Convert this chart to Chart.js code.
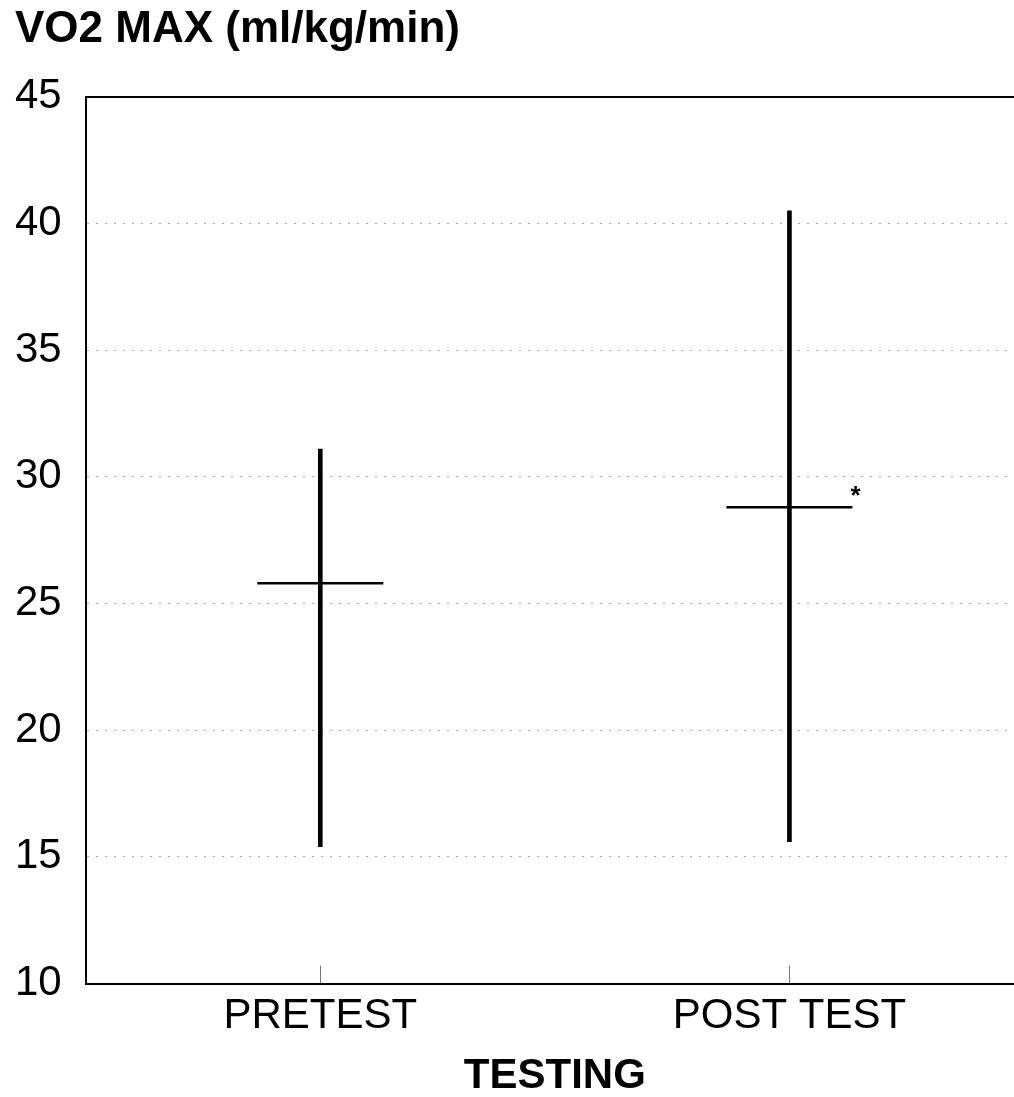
<!DOCTYPE html>
<html>
<head>
<meta charset="utf-8">
<script src="https://cdn.jsdelivr.net/npm/chart.js@4/dist/chart.umd.min.js"></script>
<style>
  html, body { margin: 0; padding: 0; background: #fff; overflow: hidden; }
  #wrap { width: 1024px; height: 1097px; }
</style>
</head>
<body>
<div id="wrap"><canvas id="vo2"></canvas></div>
<script>
// ---- data ----
const categories = ['PRETEST', 'POST TEST'];
const rangeMin   = [15.4, 15.6];
const rangeMax   = [31.1, 40.5];
const means      = [25.8, 28.8];
const markers    = ['', '*'];          // significance mark next to the mean
const yTicks     = [10, 15, 20, 25, 30, 35, 40, 45];

const FONT = '"Liberation Sans", Arial, sans-serif';
const MEAN_HALF = 63;                  // half width of the mean bar (px)

// "*" drawn to the right of the mean line
const starPlugin = {
  id: 'star',
  afterDatasetsDraw(chart) {
    const meta = chart.getDatasetMeta(1);
    const ctx = chart.ctx;
    ctx.save();
    ctx.fillStyle = '#000';
    ctx.font = 'bold 26px ' + FONT;
    ctx.textAlign = 'left';
    ctx.textBaseline = 'middle';
    meta.data.forEach((pt, i) => {
      if (!markers[i]) return;
      ctx.fillText(markers[i], pt.x + MEAN_HALF - 2, pt.y - 10);
    });
    ctx.restore();
  }
};

new Chart(document.getElementById('vo2'), {
  type: 'bar',
  data: {
    labels: categories,
    datasets: [
      {
        type: 'bar',
        data: categories.map((_, i) => [rangeMin[i], rangeMax[i]]),
        backgroundColor: '#000',
        borderWidth: 0,
        barThickness: 4,
        borderSkipped: false
      },
      {
        type: 'line',
        data: means,
        showLine: false,
        pointStyle: 'line',
        pointRadius: MEAN_HALF,
        pointHoverRadius: MEAN_HALF,
        pointBorderColor: '#000',
        pointBorderWidth: 2.5,
        pointBackgroundColor: '#000'
      }
    ]
  },
  plugins: [starPlugin],
  options: {
    responsive: true,
    maintainAspectRatio: false,
    animation: false,
    events: [],
    layout: { autoPadding: false, padding: { left: 15, right: 0, top: 0, bottom: 0 } },
    plugins: {
      legend: { display: false },
      tooltip: { enabled: false },
      title: {
        display: true,
        text: 'VO2 MAX (ml/kg/min)',
        align: 'start',
        color: '#000',
        font: { family: FONT, size: 44, weight: 'bold' },
        padding: { top: 3, bottom: 33 }
      }
    },
    scales: {
      x: {
        type: 'category',
        offset: true,
        grid: {
          display: true,
          offset: false,
          drawOnChartArea: false,
          drawTicks: true,
          tickLength: -18,
          tickColor: '#777',
          tickWidth: 1
        },
        border: { display: true, color: '#000', width: 2 },
        ticks: {
          color: '#000',
          padding: 26,
          font: { family: FONT, size: 42 }
        },
        title: {
          display: true,
          text: 'TESTING',
          color: '#000',
          font: { family: FONT, size: 42, weight: 'bold', lineHeight: 1 },
          padding: { top: -13, bottom: 0 }
        }
      },
      xTop: {
        type: 'category',
        position: 'top',
        offset: true,
        grid: { display: false },
        border: { display: true, color: '#000', width: 2 },
        ticks: { display: false }
      },
      y: {
        type: 'linear',
        min: yTicks[0],
        max: yTicks[yTicks.length - 1],
        afterBuildTicks: axis => { axis.ticks = yTicks.map(v => ({ value: v })); },
        grid: {
          color: ctx => (ctx.tick && (ctx.tick.value === 10 || ctx.tick.value === 45)) ? 'rgba(0,0,0,0)' : '#a8a8a8',
          lineWidth: 1,
          drawTicks: false
        },
        border: { display: true, color: '#000', width: 2, dash: [2, 7] },
        ticks: {
          color: '#000',
          padding: 12,
          crossAlign: 'far',
          font: { family: FONT, size: 42 }
        }
      }
    }
  }
});
</script>
</body>
</html>
